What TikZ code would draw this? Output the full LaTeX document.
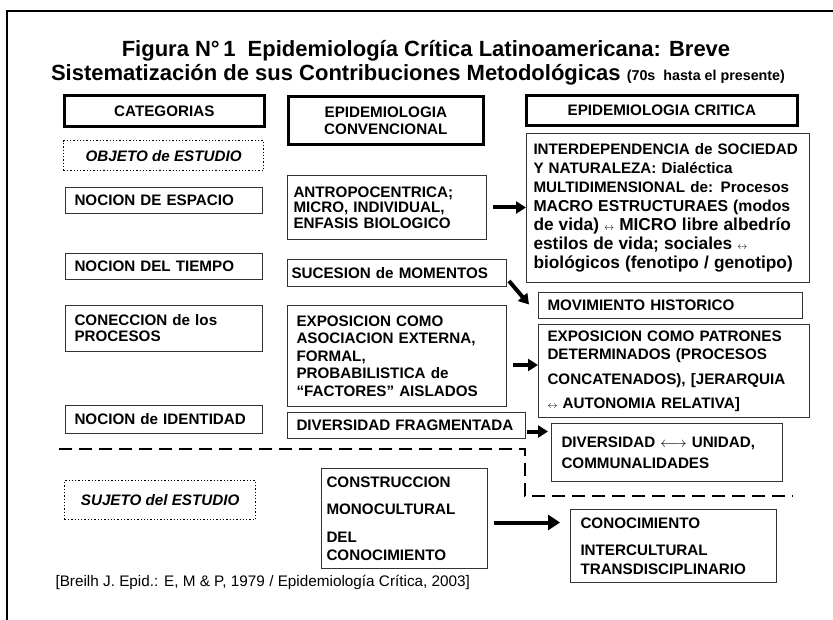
\documentclass[tikz,border=0pt]{standalone}
\usepackage{fontspec}
\setmainfont{Liberation Sans}
\usetikzlibrary{positioning,calc,arrows.meta}

\newcommand{\smallarr}{{\fontsize{10}{10}\selectfont$\leftrightarrow$}}

\begin{document}
\begin{tikzpicture}[
    x=1pt, y=-1pt, % координаты в пикселях, ось y вниз
    header/.style={draw, line width=2.7pt, anchor=north west, inner sep=0pt, align=center, font=\fontsize{15.2}{17}\selectfont\bfseries}, % заголовки колонок
    cell/.style={draw=black!80, line width=1pt, anchor=north west, inner xsep=9pt, inner ysep=1pt, align=left, font=\fontsize{15.2}{16}\selectfont\bfseries}, % ячейки
    tag/.style={draw, dotted, line width=1.3pt, anchor=north west, inner sep=0pt, font=\fontsize{15.2}{16}\selectfont\bfseries\itshape}, % пунктирные метки
    arrow/.style={-{Triangle[length=10pt,width=12pt]}, line width=4pt}, % толстые стрелки
    divider/.style={line width=2.7pt, dash pattern=on 13pt off 7pt} % разделитель
    ]

    \useasboundingbox (0,0) rectangle (833,620);

    % Рамка
    \draw[line width=2pt] (7,625) -- (7,11) -- (840,11);

    % Заголовок
    \node[anchor=base, font=\fontsize{22}{22}\selectfont\bfseries] (title1) at (426,57) {Figura N°\,1\hspace{12pt}Epidemiología Crítica Latinoamericana: Breve};
    \node[anchor=base, font=\fontsize{22}{22}\selectfont\bfseries] (title2) at (418,81) {Sistematización de sus Contribuciones Metodológicas {\fontsize{14.3}{14}\selectfont(70s\ \ hasta el presente)}};

    % Заголовки колонок
    \node[header, minimum width=200pt, minimum height=31pt] (cat) at (63,94) {CATEGORIAS};
    \node[header, minimum width=195pt, minimum height=48pt] (conv) at (287,95) {EPIDEMIOLOGIA\\CONVENCIONAL};
    \node[header, minimum width=271pt, minimum height=30pt] (crit) at (525,94) {EPIDEMIOLOGIA CRITICA};

    % Категории
    \node[tag, minimum width=200pt, minimum height=30pt] (objeto) at (63,140) {OBJETO de ESTUDIO};
    \node[cell, text width=179pt, minimum height=26pt] (espacio) at (65,187) {NOCION DE ESPACIO};
    \node[cell, text width=179pt, minimum height=26pt] (tiempo) at (65,253) {NOCION DEL TIEMPO};
    \node[cell, text width=179pt, minimum height=46pt] (conexion) at (65,305) {CONECCION de los\\PROCESOS};
    \node[cell, text width=179pt, minimum height=28pt] (identidad) at (65,405) {NOCION de IDENTIDAD};
    \node[tag, minimum width=191pt, minimum height=39pt] (sujeto) at (64,480) {SUJETO del ESTUDIO};

    % Конвенциональная эпидемиология
    \node[cell, inner xsep=6pt, text width=187pt, minimum height=64pt, font=\fontsize{15.2}{15.5}\selectfont\bfseries] (antropo) at (287,175) {ANTROPOCENTRICA;\\MICRO, INDIVIDUAL,\\ENFASIS BIOLOGICO};
    \node[cell, inner xsep=4pt, text width=211pt, minimum height=27pt] (sucesion) at (287,259) {SUCESION de MOMENTOS};
    \node[cell, text width=201pt, minimum height=101pt, font=\fontsize{15.2}{17.5}\selectfont\bfseries] (expconv) at (287,305) {EXPOSICION COMO\\ASOCIACION EXTERNA,\\FORMAL,\\PROBABILISTICA de\\“FACTORES” AISLADOS};
    \node[cell, text width=220pt, minimum height=26pt] (fragment) at (287,412) {DIVERSIDAD FRAGMENTADA};
    \node[cell, inner xsep=5pt, text width=156pt, minimum height=100pt, font=\fontsize{15.2}{18}\selectfont\bfseries] (construc) at (321,468) {CONSTRUCCION\\[9pt]MONOCULTURAL\\[10pt]DEL\\CONOCIMIENTO};

    % Критическая эпидемиология
    \node[cell, inner xsep=7pt, text width=269pt, minimum height=149pt, font=\fontsize{15.2}{19}\selectfont\bfseries] (interdep) at (526,133) {INTERDEPENDENCIA de SOCIEDAD\\Y NATURALEZA: Dialéctica\\MULTIDIMENSIONAL de: Procesos\\{\fontsize{15.8}{19}\selectfont MACRO ESTRUCTURAES (modos}\\{\fontsize{17.3}{19}\selectfont de vida) \smallarr{} MICRO libre albedrío}\\{\fontsize{17.3}{19}\selectfont estilos de vida; sociales \smallarr}\\{\fontsize{17.3}{19}\selectfont biológicos (fenotipo / genotipo)}};
    \node[cell, text width=246pt, minimum height=26pt] (movim) at (538,292) {MOVIMIENTO HISTORICO};
    \node[cell, text width=253pt, minimum height=93pt, font=\fontsize{15.2}{18}\selectfont\bfseries] (expcrit) at (538,324) {EXPOSICION COMO PATRONES\\DETERMINADOS (PROCESOS\\[7pt]CONCATENADOS), [JERARQUIA\\[6pt]\smallarr{} AUTONOMIA RELATIVA]};
    \node[cell, inner xsep=10pt, text width=211pt, minimum height=58pt, font=\fontsize{15.2}{21}\selectfont\bfseries] (divuni) at (551,423) {DIVERSIDAD $\longleftrightarrow$ UNIDAD,\\COMMUNALIDADES};
    \node[cell, inner xsep=10pt, text width=186pt, minimum height=73pt, font=\fontsize{15.2}{19}\selectfont\bfseries] (conoc) at (570,509) {CONOCIMIENTO\\[8pt]INTERCULTURAL\\TRANSDISCIPLINARIO};

    % Разделитель
    \draw[divider] (59,449) -- (525,449) -- (525,496) -- (793,496);

    % Стрелки
    \draw[arrow] ([xshift=6pt]antropo.east) -- (antropo.east -| interdep.west);
    \draw[arrow] ([xshift=2pt,yshift=-8pt]sucesion.east) -- ([xshift=-9pt,yshift=1pt]movim.west);
    \draw[arrow] ([xshift=6pt,yshift=-9pt]expconv.east) -- ([yshift=-9pt]expconv.east -| expcrit.west);
    \draw[arrow] ([xshift=1pt,yshift=-6pt]fragment.east) -- ([xshift=-3pt,yshift=-6pt]fragment.east -| divuni.west);
    \draw[arrow, -{Triangle[length=12pt,width=15pt]}] ([xshift=6pt,yshift=-4pt]construc.east) -- ([xshift=-10pt,yshift=-4pt]construc.east -| conoc.west);

    % Источник
    \node[anchor=west, font=\fontsize{15.3}{15}\selectfont] (source) at (52,582) {[Breilh J. Epid.: E, M \& P, 1979 / Epidemiología Crítica, 2003]};

\end{tikzpicture}
\end{document}
